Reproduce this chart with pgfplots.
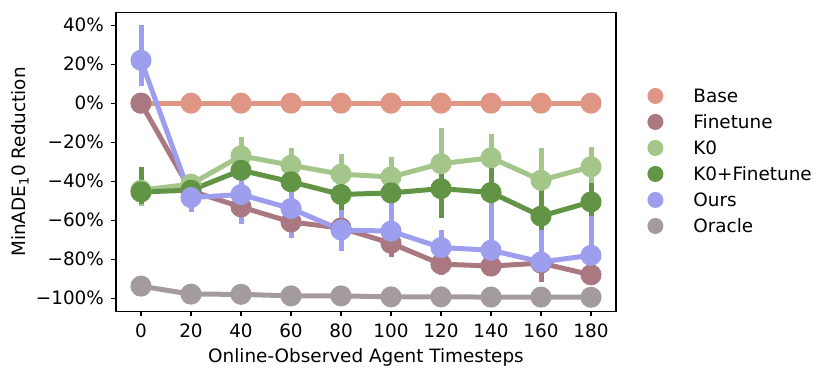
\documentclass[border=0pt]{standalone}
\usepackage{fontspec}
\setmainfont{DejaVu Sans}
\usepackage{pgfplots}
\usepackage{pgfplotstable}
\pgfplotsset{compat=1.18}

\definecolor{cBase}{RGB}{224,150,132}
\definecolor{cFine}{RGB}{170,120,128}
\definecolor{cKzero}{RGB}{165,198,138}
\definecolor{cKzeroF}{RGB}{98,148,70}
\definecolor{cOurs}{RGB}{158,158,238}
\definecolor{cOracle}{RGB}{164,155,160}

% x  y  error+  error-
\pgfplotstableread{
x y ep em
0 0 0.4 0.4
20 0 0.4 0.4
40 0 0.4 0.4
60 0 0.4 0.4
80 0 0.4 0.4
100 0 0.4 0.4
120 0 0.4 0.4
140 0 0.4 0.4
160 0 0.4 0.4
180 0 0.4 0.4
}\base
\pgfplotstableread{
x y ep em
0 0 1 1
20 -45 3 3
40 -53.2 2.6 5.8
60 -60.9 3.5 5
80 -64 3 7
100 -71.8 10.8 7.2
120 -82.5 3.5 5.5
140 -83.5 4.5 4.5
160 -82 3 9.5
180 -88 18 4
}\finetune
\pgfplotstableread{
x y ep em
0 -44.6 10 8
20 -41.5 5 5
40 -27 9.7 8
60 -31.8 8.8 8
80 -36.4 10.4 9
100 -37.8 10.3 8
120 -31 18.5 14
140 -28 12 15
160 -39.5 16.5 15
180 -32.6 10.2 9
}\kzero
\pgfplotstableread{
x y ep em
0 -45.5 12.9 6
20 -44.6 5 5
40 -34.4 12.4 10
60 -40.3 11 10
80 -46.8 8 9
100 -46 7.4 10.6
120 -43.8 13.8 15.2
140 -45.8 14 15
160 -57.9 15.9 8.9
180 -50.6 9.6 14.4
}\kzerofine
\pgfplotstableread{
x y ep em
0 22 18 13
20 -48.4 10.6 7.3
40 -46.8 17.8 15
60 -54 19 15
80 -65 10 11
100 -65.6 17.6 10.4
120 -74 9 7
140 -75.4 24.4 7.6
160 -81.4 16.4 5.6
180 -78 20 8
}\ours
\pgfplotstableread{
x y ep em
0 -93.8 0.8 0.8
20 -97.9 0.6 0.6
40 -98 0.6 0.6
60 -98.8 0.5 0.5
80 -98.8 0.5 0.5
100 -99.3 0.4 0.4
120 -99.3 0.4 0.4
140 -99.4 0.4 0.4
160 -99.4 0.4 0.4
180 -99.5 0.4 0.4
}\oracle

\pgfplotsset{
    pt/.style={
        color=#1, line width=2.5pt, mark=*, mark size=4pt,
        mark options={draw=none, fill=#1},
        error bars/y dir=both, error bars/y explicit,
        error bars/error mark=none,
        error bars/error bar style={line width=2.5pt, color=#1},
    },
}

\begin{document}
\begin{tikzpicture}
\useasboundingbox (0,0) rectangle (415pt,189.5pt);
\begin{axis}[
    at={(58pt,33.75pt)}, anchor=south west,
    scale only axis, width=250pt, height=149.5pt,
    font=\fontsize{9.2}{11}\selectfont,
    xmin=-10, xmax=190, ymin=-106.8, ymax=46.5,
    xtick={0,20,40,60,80,100,120,140,160,180},
    xticklabels={0,20,40,60,80,100,120,140,160,180},
    ytick={-100,-80,-60,-40,-20,0,20,40},
    yticklabels={−100\%,−80\%,−60\%,−40\%,−20\%,0\%,20\%,40\%},
    tick align=outside, xtick pos=bottom, ytick pos=left,
    major tick length=2.5pt,
    tick style={black, line width=0.6pt},
    axis line style={line width=0.6pt},
    xlabel={Online-Observed Agent Timesteps},
    ylabel={MinADE\textsubscript{1}0 Reduction},
    xlabel style={at={(axis description cs:0.5,-0.152)}, anchor=center},
    ylabel style={at={(axis description cs:-0.192,0.5)}, anchor=center},
    legend image code/.code={\fill[#1, draw=none] (4pt,0.7pt) circle (4pt);
        \path[draw=none, fill=none] (0pt,-4.35pt) (8pt,4.7pt);},
    legend style={draw=none, fill=none, at={(1,0.5)}, anchor=west,
        xshift=15.5pt, inner sep=0pt, row sep=3.95pt,
        nodes={inner sep=0pt, text height=7pt, text depth=1.7pt},
        /tikz/every odd column/.append style={column sep=15pt},
        font=\fontsize{9.2}{11}\selectfont},
    legend cell align=left,
]
\addlegendimage{color=cBase}
\addlegendimage{color=cFine}
\addlegendimage{color=cKzero}
\addlegendimage{color=cKzeroF}
\addlegendimage{color=cOurs}
\addlegendimage{color=cOracle}

\addplot[forget plot, pt=cBase] table[x=x, y=y, y error plus=ep, y error minus=em] {\base};
\addplot[forget plot, pt=cFine] table[x=x, y=y, y error plus=ep, y error minus=em] {\finetune};
\addplot[forget plot, pt=cKzero] table[x=x, y=y, y error plus=ep, y error minus=em] {\kzero};
\addplot[forget plot, pt=cKzeroF] table[x=x, y=y, y error plus=ep, y error minus=em] {\kzerofine};
\addplot[forget plot, pt=cOurs] table[x=x, y=y, y error plus=ep, y error minus=em] {\ours};
\addplot[forget plot, pt=cOracle] table[x=x, y=y, y error plus=ep, y error minus=em] {\oracle};

\legend{Base,Finetune,K0,K0+Finetune,Ours,Oracle}
\end{axis}
\end{tikzpicture}
\end{document}
